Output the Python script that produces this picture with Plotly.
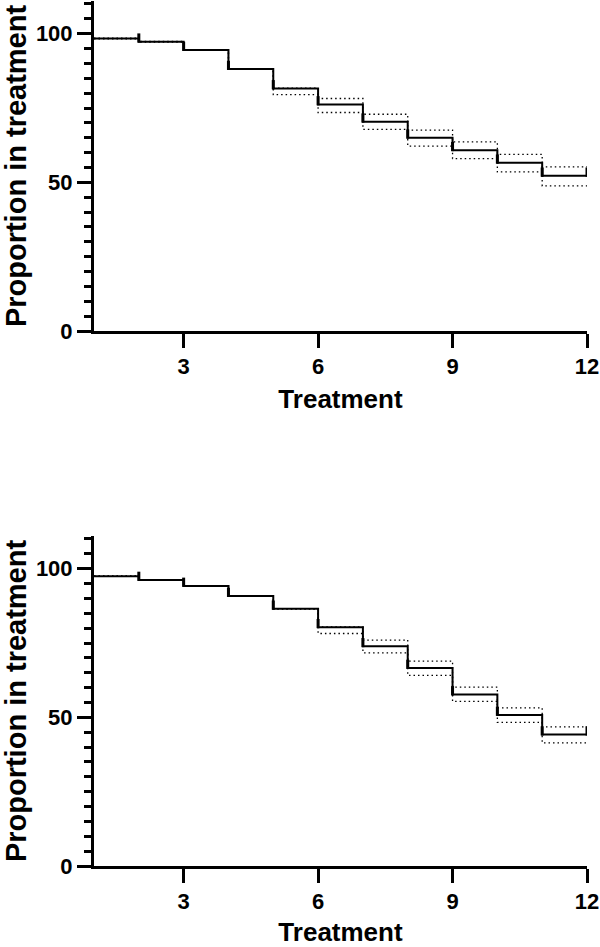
import plotly.graph_objects as go

# ---- data ----
treatment_start = [1, 2, 3, 4, 5, 6, 7, 8, 9, 10, 11]
treatment_end = 12

top_est = [98.4, 97.3, 94.5, 88.1, 81.6, 76.2, 70.4, 65.0, 60.8, 56.6, 52.2]
top_upper = [98.5, 97.4, 94.6, 88.2, 81.7, 78.2, 72.9, 67.6, 63.6, 59.4, 55.2]
top_lower = [98.3, 97.2, 94.4, 88.0, 79.5, 73.5, 67.8, 62.2, 58.0, 53.5, 48.8]

bot_est = [97.5, 96.2, 94.2, 90.8, 86.5, 80.3, 73.9, 66.6, 57.7, 50.8, 44.2]
bot_upper = [97.6, 96.3, 94.3, 90.9, 86.6, 80.4, 76.0, 68.9, 60.2, 53.2, 46.8]
bot_lower = [97.4, 96.1, 94.1, 90.7, 86.4, 78.2, 71.7, 64.1, 55.4, 48.3, 41.4]

y_tickvals = [0, 50, 100]
x_tickvals = [3, 6, 9, 12]

FONT = "Liberation Sans"
BLACK = "#000000"


def step_xy(vals):
    xs = list(treatment_start) + [treatment_end]
    ys = list(vals) + [vals[-1]]
    return xs, ys


fig = go.Figure()


def add_panel(est, up, lo, xa, ya):
    for ci in (up, lo):
        xs, ys = step_xy(ci)
        fig.add_trace(go.Scatter(x=xs, y=ys, mode="lines", line_shape="hv",
                                 line=dict(color=BLACK, width=1.3, dash="1.5px,3px"),
                                 xaxis=xa, yaxis=ya, showlegend=False, hoverinfo="skip"))
    xs, ys = step_xy(est)
    fig.add_trace(go.Scatter(x=xs, y=ys, mode="lines", line_shape="hv",
                             line=dict(color=BLACK, width=2),
                             xaxis=xa, yaxis=ya, showlegend=False))
    # censor tick marks at each step (new level) and at the end
    tx = xs[1:]
    ty = ys[1:]
    fig.add_trace(go.Scatter(x=tx, y=ty, mode="markers",
                             marker=dict(size=0.1, color=BLACK),
                             error_y=dict(type="data", symmetric=False,
                                          array=[2.8] * len(tx), arrayminus=[0.3] * len(tx),
                                          width=0, thickness=3, color=BLACK),
                             xaxis=xa, yaxis=ya, showlegend=False, hoverinfo="skip"))


add_panel(top_est, top_upper, top_lower, "x", "y")
add_panel(bot_est, bot_upper, bot_lower, "x2", "y2")

tickfont = dict(family=FONT, size=22, color=BLACK, weight="bold")
xtitlefont = dict(family=FONT, size=26, color=BLACK, weight="bold")
ytitlefont = dict(family=FONT, size=29, color=BLACK, weight="bold")

xcommon = dict(range=[1, 12], tickvals=x_tickvals, ticks="outside", ticklen=14,
               tickwidth=3, tickcolor=BLACK, showline=True, linewidth=3, linecolor=BLACK,
               showgrid=False, zeroline=False, tickfont=tickfont, automargin=False,
               title=dict(text="Treatment", font=xtitlefont, standoff=12))
ycommon = dict(range=[0, 111], tickvals=y_tickvals, ticks="outside", ticklen=14,
               tickwidth=3, tickcolor=BLACK, showline=True, linewidth=3, linecolor=BLACK,
               showgrid=False, zeroline=False, tickfont=tickfont, automargin=False,
               minor=dict(dtick=5, tick0=0, ticks="outside", ticklen=7, tickwidth=3,
                          tickcolor=BLACK, showgrid=False),
               title=dict(text="Proportion in treatment", font=ytitlefont, standoff=6))

fig.update_layout(
    width=600, height=947,
    margin=dict(l=94, r=13, t=1, b=81),
    paper_bgcolor="white", plot_bgcolor="white",
    xaxis=dict(domain=[0, 1], anchor="y", **xcommon),
    yaxis=dict(domain=[0.6185, 1], anchor="x", **ycommon),
    xaxis2=dict(domain=[0, 1], anchor="y2", **xcommon),
    yaxis2=dict(domain=[0, 0.3815], anchor="x2", **ycommon),
    showlegend=False,
)

fig.write_html("out.html", config={"displayModeBar": False},
               post_script="document.body.style.margin='0';document.body.style.overflow='hidden';")
